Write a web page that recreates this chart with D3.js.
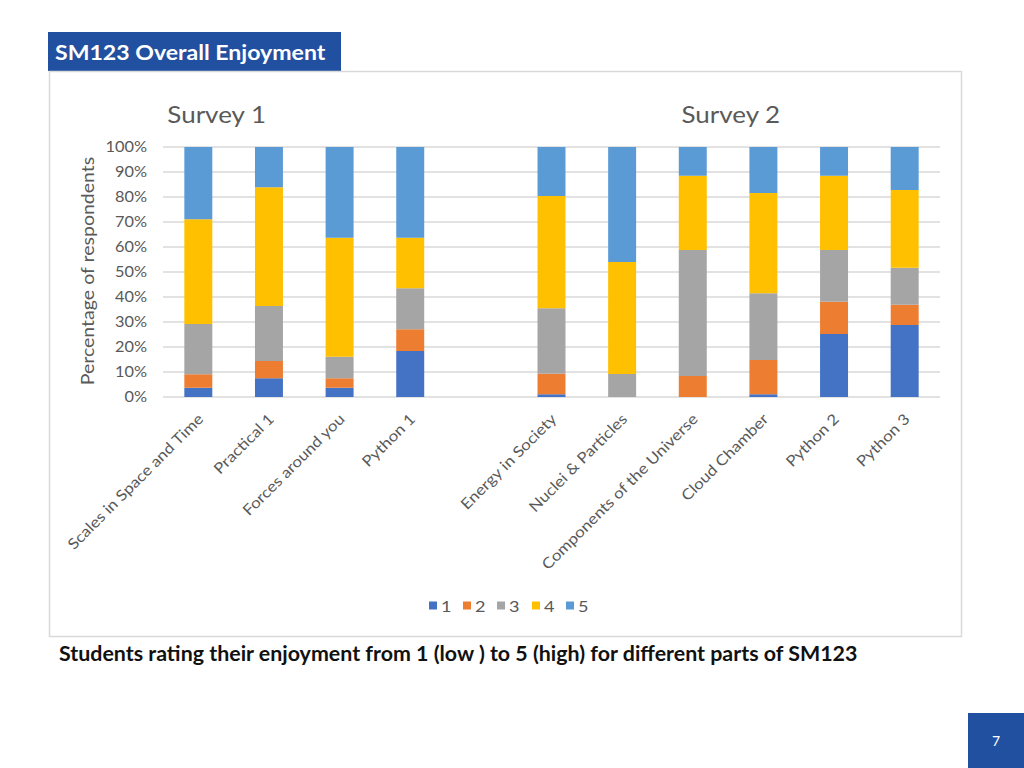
<!DOCTYPE html>
<html>
<head>
<meta charset="utf-8">
<script src="https://cdn.jsdelivr.net/npm/d3@7"></script>
<style>
  html, body { margin: 0; padding: 0; background: #ffffff; }
  svg { display: block; }
</style>
</head>
<body>
<svg id="chart" width="1024" height="768"></svg>
<script>
// ---- Data ----
const categories = ["Scales in Space and Time", "Practical 1", "Forces around you", "Python 1", "",
  "Energy in Society", "Nuclei & Particles", "Components of the  Universe", "Cloud Chamber", "Python 2", "Python 3"];
const ratingKeys = ["1", "2", "3", "4", "5"];
const rating1 = [3.7, 7.5, 3.7, 18.4, null, 1.1, 0, 0, 1.1, 25.2, 28.8];
const rating2 = [5.4, 6.9, 3.8, 8.7, null, 8.2, 0, 8.4, 13.7, 12.9, 8.1];
const rating3 = [20.1, 22.0, 8.6, 16.4, null, 26.2, 9.2, 50.4, 26.7, 20.7, 14.8];
const rating4 = [41.9, 47.5, 47.6, 20.2, null, 44.9, 44.8, 29.7, 40.1, 29.7, 31.1];
const rating5 = [28.9, 16.1, 36.3, 36.3, null, 19.6, 46.0, 11.5, 18.4, 11.5, 17.2];
const yTicks = [0, 10, 20, 30, 40, 50, 60, 70, 80, 90, 100];
const surveyTitles = ["Survey 1", "Survey 2"];
const pageTitle = "SM123 Overall Enjoyment";
const caption = "Students rating their enjoyment from 1 (low ) to 5 (high) for different parts of SM123";
const pageNumber = "7";
const colors = ["#4472C4", "#ED7D31", "#A5A5A5", "#FFC000", "#5B9BD5"];

const seriesValues = [rating1, rating2, rating3, rating4, rating5];
const rows = categories.map((c, i) => {
  const r = { cat: c, idx: i };
  ratingKeys.forEach((k, j) => r[k] = seriesValues[j][i] == null ? 0 : seriesValues[j][i]);
  return r;
});

const FONT = "Lato, 'Open Sans', sans-serif";
const SX = 1.13; // horizontal stretch to match the reference glyph widths
const svg = d3.select("#chart");

// Page header box
svg.append("rect").attr("x", 48).attr("y", 32).attr("width", 293).attr("height", 39).attr("fill", "#2150A0");
svg.append("text").attr("transform", `translate(55,60) scale(1.1,1)`).attr("fill", "#ffffff")
  .attr("font-family", FONT).attr("font-weight", "bold").attr("font-size", 21).text(pageTitle);

// Chart frame
svg.append("rect").attr("x", 49.5).attr("y", 71.5).attr("width", 912).attr("height", 565)
  .attr("fill", "none").attr("stroke", "#D9D9D9").attr("stroke-width", 1.5);

// Scales
const x = d3.scaleBand().domain(categories.map((c, i) => i)).range([163, 940]).paddingInner(0.604).paddingOuter(0.302);
const y = d3.scaleLinear().domain([0, 100]).range([397, 147]);

// Gridlines
svg.append("g").selectAll("line").data(yTicks).join("line")
  .attr("x1", 163).attr("x2", 940)
  .attr("y1", d => y(d)).attr("y2", d => y(d))
  .attr("stroke", "#D9D9D9").attr("stroke-width", 1.5);

// Y axis
const yAxis = d3.axisLeft(y).tickValues(yTicks).tickFormat(d => d + "%").tickSize(0).tickPadding(0);
const gy = svg.append("g").attr("transform", "translate(147,0)").call(yAxis);
gy.select(".domain").remove();
gy.selectAll("text").attr("font-family", FONT).attr("font-size", 15).attr("fill", "#595959")
  .attr("x", 0).attr("transform", "scale(1.09,1)");

// Y axis title
svg.append("text").attr("transform", "translate(94,271) rotate(-90) scale(1.15,1)")
  .attr("text-anchor", "middle").attr("font-family", FONT).attr("font-size", 17).attr("fill", "#595959")
  .text("Percentage of respondents");

// Stacked bars
const stack = d3.stack().keys(ratingKeys);
const stacked = stack(rows);
svg.append("g").selectAll("g").data(stacked).join("g")
  .attr("fill", (d, i) => colors[i])
  .selectAll("rect").data(d => d.filter(p => p.data.cat !== "")).join("rect")
  .attr("x", p => x(p.data.idx))
  .attr("width", x.bandwidth())
  .attr("y", p => y(p[1]))
  .attr("height", p => y(p[0]) - y(p[1]));

// X axis labels
const xAxis = d3.axisBottom(x).tickFormat(i => categories[i]).tickSize(0).tickPadding(0);
const gx = svg.append("g").attr("transform", "translate(0,397)").call(xAxis);
gx.select(".domain").remove();
gx.selectAll("text")
  .attr("font-family", FONT).attr("font-size", 15).attr("fill", "#595959")
  .attr("text-anchor", "end")
  .attr("dy", null).attr("y", 0)
  .attr("transform", `translate(6,23) rotate(-45) scale(${SX},1)`);

// Survey titles
const surveyX = [x(0) - 17, x(5) + 144];
svg.append("g").selectAll("text").data(surveyTitles).join("text")
  .attr("transform", (d, i) => `translate(${surveyX[i]},123) scale(${SX},1)`)
  .attr("font-family", FONT).attr("font-size", 23).attr("fill", "#595959").text(d => d);

// Legend
const legendX = [429, 463, 497, 532, 566];
const lg = svg.append("g").selectAll("g").data(ratingKeys).join("g")
  .attr("transform", (d, i) => `translate(${legendX[i]},606)`);
lg.append("rect").attr("x", 0).attr("y", -4.5).attr("width", 8).attr("height", 8).attr("fill", (d, i) => colors[i]);
lg.append("text").attr("transform", `translate(12,6) scale(${SX},1)`).attr("font-family", FONT).attr("font-size", 16)
  .attr("fill", "#595959").text(d => d);

// Caption
svg.append("text").attr("transform", "translate(59,661) scale(1.07,1)").attr("font-family", FONT).attr("font-weight", "bold")
  .attr("font-size", 20).attr("fill", "#111111").text(caption);

// Page number
svg.append("rect").attr("x", 968).attr("y", 713).attr("width", 56).attr("height", 55).attr("fill", "#2150A0");
svg.append("text").attr("x", 996).attr("y", 746).attr("text-anchor", "middle").attr("fill", "#ffffff")
  .attr("font-family", FONT).attr("font-size", 14).text(pageNumber);
</script>
</body>
</html>
